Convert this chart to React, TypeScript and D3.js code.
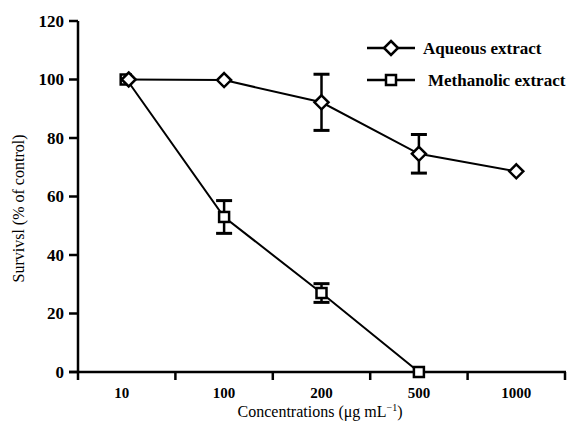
import React, { useEffect, useRef } from 'react'
import * as d3 from 'd3'

// data
const concentrations = ['10', '100', '200', '500', '1000']
const aqueousMean = [100, 99.8, 92.2, 74.6, 68.6]
const aqueousErr = [0, 0, 9.6, 6.6, 0]
const methanolicMean = [100, 53, 27, 0]
const methanolicErr = [0, 5.6, 3.2, 0]
const yTicks = [0, 20, 40, 60, 80, 100, 120]

const W = 582
const H = 428
const margin = { left: 78, right: 17, top: 21, bottom: 56 }

const App = () => {
  const svgRef = useRef<SVGSVGElement>(null)

  useEffect(() => {
    const svg = d3.select(svgRef.current)
    svg.selectAll('*').remove()

    const x = d3.scaleBand().domain(concentrations).range([margin.left, W - margin.right])
    const y = d3.scaleLinear().domain([0, 120]).range([H - margin.bottom, margin.top])
    const cx = (i: number) => (x(concentrations[i]) as number) + x.bandwidth() / 2

    // y axis
    svg.append('line').attr('x1', margin.left).attr('x2', margin.left)
      .attr('y1', y(120)).attr('y2', y(0) + 8).attr('stroke', '#000').attr('stroke-width', 2.5)
    yTicks.forEach(t => {
      svg.append('line').attr('x1', margin.left - 9).attr('x2', margin.left)
        .attr('y1', y(t)).attr('y2', y(t)).attr('stroke', '#000').attr('stroke-width', 2.5)
      svg.append('text').attr('x', margin.left - 14).attr('y', y(t)).attr('dy', '0.35em')
        .attr('text-anchor', 'end').attr('font-weight', 'bold')
        .attr('font-size', 17).text(t)
    })

    // x axis
    svg.append('line').attr('x1', margin.left - 9).attr('x2', W - margin.right + 1)
      .attr('y1', y(0)).attr('y2', y(0)).attr('stroke', '#000').attr('stroke-width', 2.5)
    concentrations.forEach((c, i) => {
      const edge = (x(c) as number) + x.bandwidth()
      svg.append('line').attr('x1', edge).attr('x2', edge)
        .attr('y1', y(0)).attr('y2', y(0) + 8).attr('stroke', '#000').attr('stroke-width', 2.5)
      svg.append('text').attr('x', cx(i) - (i === 0 ? 5 : 0)).attr('y', y(0) + 26)
        .attr('text-anchor', 'middle').attr('font-weight', 'bold')
        .attr('font-size', 15).text(c)
    })

    // axis titles
    const xt = svg.append('text').attr('x', 320).attr('y', 417).attr('text-anchor', 'middle')
      .attr('font-size', 16)
    xt.append('tspan').text('Concentrations (μg mL')
    xt.append('tspan').attr('dy', -6).attr('font-size', 10).text('−1')
    xt.append('tspan').attr('dy', 6).text(')')

    svg.append('text').attr('transform', `translate(24,${(y(0) + y(120)) / 2 + 12}) rotate(-90)`)
      .attr('text-anchor', 'middle').attr('font-size', 16)
      .text('Survivsl (% of control)')

    const line = d3.line<number>().x((d, i) => cx(i)).y(d => y(d))

    // lines
    svg.append('path').attr('d', line(aqueousMean)).attr('fill', 'none')
      .attr('stroke', '#000').attr('stroke-width', 2)
    svg.append('path').attr('d', line(methanolicMean)).attr('fill', 'none')
      .attr('stroke', '#000').attr('stroke-width', 2)

    // error bars
    const errBars = (means: number[], errs: number[]) => {
      means.forEach((m, i) => {
        if (!errs[i]) return
        const px = cx(i)
        svg.append('line').attr('x1', px).attr('x2', px).attr('y1', y(m + errs[i])).attr('y2', y(m - errs[i]))
          .attr('stroke', '#000').attr('stroke-width', 2.5)
        ;[m + errs[i], m - errs[i]].forEach(v => {
          svg.append('line').attr('x1', px - 8).attr('x2', px + 8).attr('y1', y(v)).attr('y2', y(v))
            .attr('stroke', '#000').attr('stroke-width', 3)
        })
      })
    }
    errBars(aqueousMean, aqueousErr)
    errBars(methanolicMean, methanolicErr)

    // markers
    const diamond = (px: number, py: number) =>
      svg.append('path').attr('d', `M${px},${py - 7}L${px + 7},${py}L${px},${py + 7}L${px - 7},${py}Z`)
        .attr('fill', '#fff').attr('stroke', '#000').attr('stroke-width', 2.5)
    const square = (px: number, py: number) =>
      svg.append('rect').attr('x', px - 5).attr('y', py - 5).attr('width', 10).attr('height', 10)
        .attr('fill', '#fff').attr('stroke', '#000').attr('stroke-width', 2.5)

    methanolicMean.forEach((m, i) => square(cx(i) - (i === 0 ? 1 : 0), y(m)))
    aqueousMean.forEach((m, i) => diamond(cx(i) + (i === 0 ? 2 : 0), y(m)))

    // legend
    const lx = 367
    svg.append('line').attr('x1', lx).attr('x2', lx + 48).attr('y1', 48).attr('y2', 48)
      .attr('stroke', '#000').attr('stroke-width', 2.5)
    diamond(lx + 24, 48)
    svg.append('text').attr('x', 423).attr('y', 48).attr('dy', '0.35em')
      .attr('font-size', 17).attr('font-weight', 'bold').text('Aqueous extract')
    svg.append('line').attr('x1', lx).attr('x2', lx + 48).attr('y1', 80).attr('y2', 80)
      .attr('stroke', '#000').attr('stroke-width', 2.5)
    square(lx + 24, 80)
    svg.append('text').attr('x', 428).attr('y', 80).attr('dy', '0.35em')
      .attr('font-size', 17).attr('font-weight', 'bold').text('Methanolic extract')
  }, [])

  return (
    <svg ref={svgRef} width={W} height={H} viewBox={`0 0 ${W} ${H}`}
      style={{ position: 'absolute', left: 0, top: 0, background: '#fff',
        fontFamily: "'Liberation Serif', 'Times New Roman', 'DejaVu Serif', serif" }} />
  )
}

export default App
